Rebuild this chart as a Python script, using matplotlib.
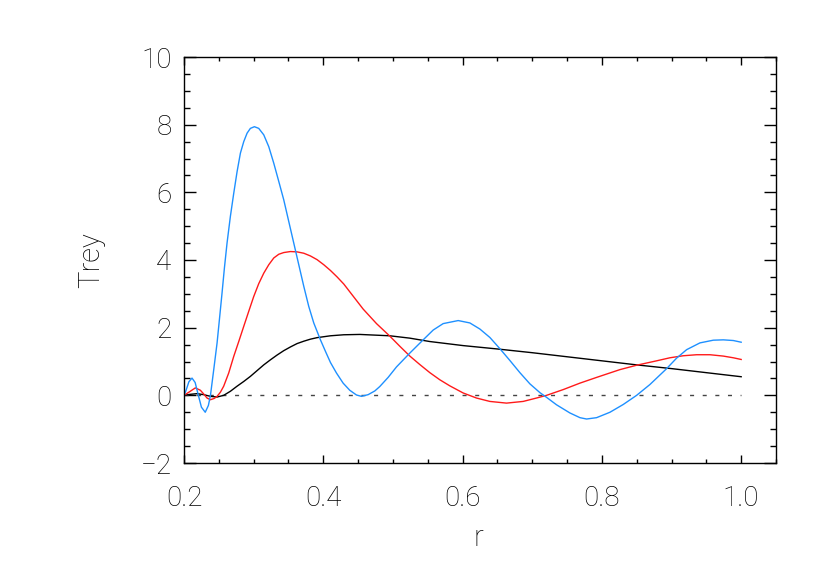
import numpy as np
import matplotlib
matplotlib.use("Agg")
import matplotlib.pyplot as plt
from matplotlib.ticker import MultipleLocator, FormatStrFormatter

# values
r_blue = [0.200, 0.2005, 0.203, 0.207, 0.2115, 0.216, 0.220, 0.225, 0.2305, 0.235,
          0.238, 0.2427, 0.2475, 0.2508, 0.2546, 0.2580, 0.2618, 0.2666, 0.2714, 0.2762,
          0.2810, 0.2858, 0.2906, 0.2953, 0.3011, 0.3073, 0.3145, 0.3217, 0.3289, 0.3361,
          0.3432, 0.3504, 0.3576, 0.3648, 0.3720, 0.3791, 0.3863, 0.3959, 0.4031, 0.4103,
          0.4189, 0.4285, 0.4380, 0.4476, 0.4548, 0.4644, 0.4740, 0.4811, 0.4931, 0.5051,
          0.5243, 0.5434, 0.5578, 0.5721, 0.5937, 0.6104, 0.6248, 0.6392, 0.6535, 0.6679,
          0.6823, 0.6966, 0.7110, 0.7206, 0.7349, 0.7540, 0.7685, 0.7780, 0.7924, 0.8116,
          0.8307, 0.8499, 0.8690, 0.8930, 0.9073, 0.9217, 0.9408, 0.9600, 0.9744, 0.9887,
          1.000]
trey_blue = [0.58, 0.02, 0.15, 0.40, 0.51, 0.38, 0.05, -0.35, -0.50, -0.30,
             0.00, 0.76, 1.55, 2.23, 3.02, 3.76, 4.50, 5.29, 5.97, 6.61,
             7.16, 7.50, 7.75, 7.89, 7.94, 7.89, 7.70, 7.35, 6.86, 6.32,
             5.78, 5.14, 4.50, 3.86, 3.22, 2.63, 2.14, 1.64, 1.30, 0.97,
             0.66, 0.36, 0.15, 0.01, -0.03, 0.02, 0.13, 0.26, 0.53, 0.84,
             1.25, 1.64, 1.93, 2.12, 2.21, 2.14, 1.96, 1.71, 1.38, 1.03,
             0.67, 0.34, 0.08, -0.06, -0.28, -0.52, -0.66, -0.70, -0.66, -0.50,
             -0.27, 0.00, 0.32, 0.79, 1.10, 1.35, 1.55, 1.63, 1.64, 1.62,
             1.57]

r_red = [0.200, 0.2068, 0.2163, 0.2235, 0.2283, 0.2331, 0.2379, 0.2436, 0.2475, 0.2522,
         0.2570, 0.2642, 0.2714, 0.2786, 0.2858, 0.2929, 0.3001, 0.3073, 0.3145, 0.3217,
         0.3289, 0.3361, 0.3432, 0.3528, 0.3624, 0.3720, 0.3815, 0.3911, 0.4007, 0.4103,
         0.4198, 0.4294, 0.4433, 0.4572, 0.4764, 0.4955, 0.5099, 0.5243, 0.5386, 0.5530,
         0.5673, 0.5817, 0.6008, 0.6200, 0.6391, 0.6631, 0.6870, 0.7061, 0.7206, 0.7445,
         0.7684, 0.7924, 0.8259, 0.8499, 0.8786, 0.8977, 0.9169, 0.9360, 0.9552, 0.9743,
         0.9887, 1.000]
trey_red = [0.00, 0.09, 0.22, 0.15, 0.04, -0.08, -0.13, -0.09, -0.03, 0.09,
            0.27, 0.66, 1.15, 1.59, 2.04, 2.48, 2.92, 3.30, 3.61, 3.86,
            4.06, 4.17, 4.22, 4.25, 4.24, 4.20, 4.12, 4.01, 3.86, 3.69,
            3.50, 3.29, 2.92, 2.55, 2.12, 1.75, 1.45, 1.16, 0.91, 0.67,
            0.46, 0.28, 0.07, -0.08, -0.18, -0.23, -0.18, -0.08, 0.00, 0.17,
            0.36, 0.53, 0.76, 0.89, 1.02, 1.11, 1.17, 1.20, 1.20, 1.16,
            1.11, 1.06]

r_black = [0.200, 0.2092, 0.2187, 0.2283, 0.2379, 0.2475, 0.2570, 0.2666, 0.2762, 0.2858,
           0.2953, 0.3049, 0.3145, 0.3241, 0.3336, 0.3432, 0.3528, 0.3624, 0.3720, 0.3815,
           0.3911, 0.4103, 0.4294, 0.4524, 0.4955, 0.5243, 0.5530, 0.6008, 0.6500, 0.7000,
           0.7500, 0.8000, 0.8500, 0.9000, 0.9500, 1.000]
trey_black = [0.00, 0.03, 0.05, 0.02, -0.03, -0.05, 0.00, 0.12, 0.27, 0.41,
              0.56, 0.73, 0.90, 1.05, 1.19, 1.32, 1.43, 1.53, 1.60, 1.66,
              1.705, 1.76, 1.79, 1.80, 1.76, 1.69, 1.59, 1.47, 1.37, 1.26,
              1.14, 1.02, 0.90, 0.79, 0.67, 0.55]

r_zero = [0.2, 1.0]
zero_line = [0.0, 0.0]

plt.rcParams['font.family'] = ['Roboto', 'DejaVu Sans']

fig = plt.figure(figsize=(8.3, 5.81), dpi=100)
ax = fig.add_axes([184 / 830, 1 - 463 / 581, 592 / 830, 406 / 581])

ax.plot(r_zero, zero_line, color='#444444', lw=1.0, linestyle=(0, (2.9, 6.2)))
ax.plot(r_black, trey_black, color='black', lw=1.0)
ax.plot(r_red, trey_red, color='#ff1a1a', lw=1.0)
ax.plot(r_blue, trey_blue, color='#1e90ff', lw=1.0)

ax.set_xlim(0.2, 1.05)
ax.set_ylim(-2, 10)
ax.xaxis.set_major_locator(MultipleLocator(0.2))
ax.xaxis.set_minor_locator(MultipleLocator(0.05))
ax.yaxis.set_major_locator(MultipleLocator(2))
ax.yaxis.set_minor_locator(MultipleLocator(0.5))
ax.xaxis.set_major_formatter(FormatStrFormatter('%.1f'))

for s in ax.spines.values():
    s.set_linewidth(1.0)

ax.tick_params(axis='both', which='both', direction='in', top=True, right=True,
               width=1.0, labelsize=20)
ax.tick_params(axis='x', which='major', length=5.6, pad=16)
ax.tick_params(axis='x', which='minor', length=2.8)
ax.tick_params(axis='y', which='major', length=8.6, pad=9)
ax.tick_params(axis='y', which='minor', length=4.3)
for lab in ax.get_xticklabels() + ax.get_yticklabels():
    lab.set_fontweight('light')

ax.set_xlabel('r', fontsize=21, fontweight='light')
ax.set_ylabel('Trey', fontsize=21, fontweight='light')
ax.xaxis.label.set_va('center')
ax.yaxis.label.set_va('center')
ax.xaxis.set_label_coords(0.498, -0.185)
ax.yaxis.set_label_coords(-0.156, 0.5)

fig.savefig('out.png', dpi=100)
